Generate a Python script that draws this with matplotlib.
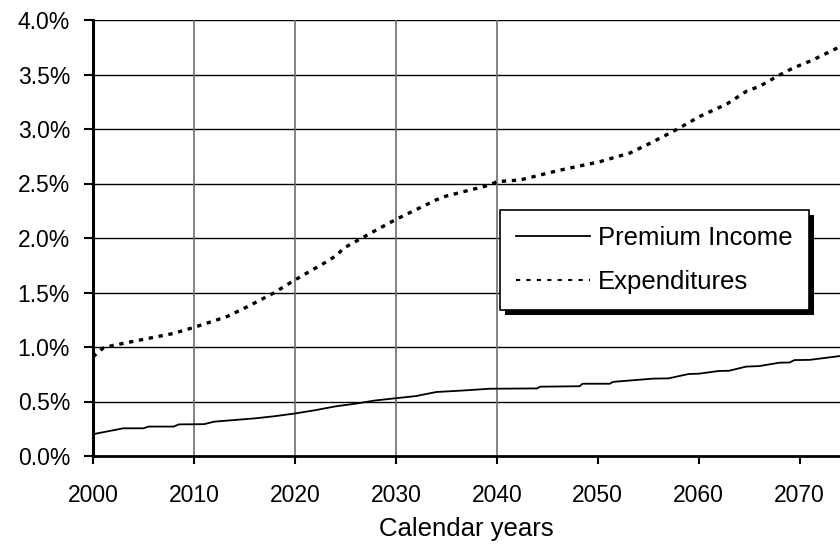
import matplotlib
matplotlib.use("Agg")
import matplotlib.pyplot as plt
from matplotlib.patches import Rectangle
from matplotlib.ticker import FuncFormatter, MultipleLocator

plt.rcParams['font.family'] = ['Liberation Sans', 'DejaVu Sans']

years_income = [2000, 2003, 2005, 2005.5, 2008, 2008.5, 2011, 2012, 2014, 2016, 2018, 2020,
                2022, 2024, 2026, 2028, 2030, 2032, 2034, 2036.5, 2039.3, 2044, 2044.3,
                2048.2, 2048.5, 2051.2, 2051.5, 2053.5, 2055.5, 2057, 2059, 2060, 2062,
                2063, 2064.7, 2066, 2068, 2069, 2069.5, 2071, 2074]
income = [0.200, 0.254, 0.254, 0.270, 0.270, 0.290, 0.292, 0.315, 0.330, 0.345, 0.365, 0.390,
          0.420, 0.455, 0.480, 0.510, 0.530, 0.550, 0.587, 0.600, 0.617, 0.620, 0.636,
          0.640, 0.663, 0.663, 0.680, 0.695, 0.710, 0.712, 0.752, 0.755, 0.780,
          0.782, 0.820, 0.825, 0.856, 0.858, 0.880, 0.882, 0.917]

years_exp = [2000, 2001, 2002, 2005, 2008, 2010, 2013.3, 2015.3, 2017.8, 2020, 2023, 2024.2,
             2024.8, 2028, 2030, 2034, 2035, 2039.3, 2040, 2042.3, 2046, 2050.2, 2053.2,
             2055.2, 2057.1, 2058.1, 2060.1, 2062.8, 2064.8, 2066, 2068, 2069.3, 2071.3, 2074]
expend = [0.91, 0.99, 1.015, 1.07, 1.125, 1.18, 1.28, 1.37, 1.49, 1.615, 1.775, 1.845,
          1.905, 2.07, 2.17, 2.35, 2.385, 2.486, 2.517, 2.532, 2.617, 2.70, 2.78,
          2.87, 2.96, 3.01, 3.115, 3.23, 3.35, 3.39, 3.495, 3.557, 3.633, 3.755]

x_ticks = [2000, 2010, 2020, 2030, 2040, 2050, 2060, 2070]
vgrid_years = [2010, 2020, 2030, 2040]

W, H = 840, 545
fig = plt.figure(figsize=(W / 100, H / 100), dpi=100)
ax = fig.add_axes([93 / W, (H - 456) / H, (W - 93) / W, (456 - 20) / H])

ax.set_xlim(2000, 2074)
ax.set_ylim(0, 4.0)

# gridlines
ax.yaxis.set_major_locator(MultipleLocator(0.5))
for yv in [0.5 * i for i in range(1, 9)]:
    ax.axhline(yv, color='black', lw=1.0, zorder=1)
for xv in vgrid_years:
    ax.axvline(xv, color='#6e6e6e', lw=1.2, zorder=1)

ax.plot(years_income, income, color='black', lw=1.3, label='Premium Income', zorder=3)
ax.plot(years_exp, expend, color='black', lw=2.4, linestyle=(0, (1.3, 1.7)),
        label='Expenditures', zorder=3)

ax.set_xticks(x_ticks)
ax.yaxis.set_major_formatter(FuncFormatter(lambda v, p: f"{v:.1f}%"))
ax.tick_params(axis='y', direction='out', length=6.5, width=1.5, pad=10, labelsize=16.5)
ax.tick_params(axis='x', direction='out', length=5.5, width=1.5, pad=15, labelsize=16.5)

for s in ['top', 'right']:
    ax.spines[s].set_visible(False)
ax.spines['left'].set_linewidth(2.2)
ax.spines['bottom'].set_linewidth(2.0)

ax.set_xlabel('Calendar years', fontsize=18.5, labelpad=7)

leg = ax.legend(loc='upper left', bbox_to_anchor=((500 - 93) / (W - 93), (456 - 210) / 436),
                frameon=True, fancybox=False, edgecolor='black', framealpha=1,
                fontsize=18.5, handlelength=2.9, handletextpad=0.3, labelspacing=0.8,
                borderpad=0.62, borderaxespad=0)
leg.get_frame().set_linewidth(1.2)
leg.set_zorder(5)
for h in leg.get_lines():
    if h.get_linestyle() != '-':
        h.set_linewidth(1.5)
        h.set_linestyle((0, (2, 3)))

fig.canvas.draw()
bb = leg.get_window_extent()
shadow = Rectangle((bb.x0 + 5, bb.y0 - 5), bb.width, bb.height, transform=None,
                   facecolor='black', edgecolor='none', zorder=4)
ax.add_artist(shadow)
shadow.set_clip_on(False)

fig.savefig('out.png', dpi=100)
